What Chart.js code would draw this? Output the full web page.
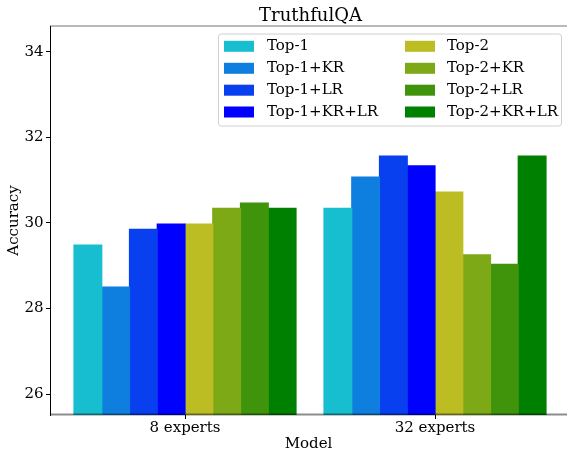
<!DOCTYPE html>
<html lang="en">
<head>
    <meta charset="UTF-8">
    <title>TruthfulQA</title>
    <script src="https://cdn.jsdelivr.net/npm/chart.js@4.4.1/dist/chart.umd.min.js"></script>
    <style>
        body {
            margin: 0;
            background-color: white;
        }
        #chart {
            display: block;
        }
    </style>
</head>
<body>
    <canvas id="chart" width="567" height="453"></canvas>

    <script>
        // data
        const categories = ['8 experts', '32 experts'];
        const seriesNames = ['Top-1', 'Top-1+KR', 'Top-1+LR', 'Top-1+KR+LR',
                             'Top-2', 'Top-2+KR', 'Top-2+LR', 'Top-2+KR+LR'];
        const top1      = [29.48, 30.34];
        const top1KR    = [28.50, 31.07];
        const top1LR    = [29.85, 31.56];
        const top1KRLR  = [29.97, 31.33];
        const top2      = [29.97, 30.72];
        const top2KR    = [30.34, 29.25];
        const top2LR    = [30.46, 29.03];
        const top2KRLR  = [30.34, 31.56];
        const yTicks = [26, 28, 30, 32, 34];

        const seriesValues = [top1, top1KR, top1LR, top1KRLR, top2, top2KR, top2LR, top2KRLR];
        const colors = ['#17becf', '#0f7fdf', '#083fef', '#0000ff',
                        '#bcbd22', '#7da917', '#3f940b', '#008000'];

        const fontFamily = "'DejaVu Serif', serif";
        const chartTitle = 'TruthfulQA';

        const datasets = seriesNames.map((name, i) => ({
            label: name,
            data: seriesValues[i].map((v, j) => ({x: j, y: v})),
            backgroundColor: colors[i],
            borderWidth: 0,
            inflateAmount: 0.6,
            categoryPercentage: 0.888,
            barPercentage: 1.0
        }));

        // title centred over the axes, not the canvas
        const axesTitle = {
            id: 'axesTitle',
            afterDraw(chart) {
                const {ctx, chartArea} = chart;
                ctx.save();
                ctx.font = '18px ' + fontFamily;
                ctx.fillStyle = '#000';
                ctx.textAlign = 'center';
                ctx.textBaseline = 'middle';
                ctx.fillText(chartTitle, (chartArea.left + chartArea.right) / 2 + 2, 16.5);
                ctx.restore();
            }
        };

        // grey top/bottom spines drawn over the bars, like matplotlib
        const spines = {
            id: 'spines',
            afterDatasetsDraw(chart) {
                const {ctx, chartArea} = chart;
                ctx.save();
                ctx.strokeStyle = 'rgba(0,0,0,0.55)';
                ctx.lineWidth = 1.2;
                ctx.beginPath();
                ctx.moveTo(chartArea.left, chartArea.top);
                ctx.lineTo(chartArea.right, chartArea.top);
                ctx.stroke();
                ctx.strokeStyle = 'rgba(0,0,0,0.45)';
                ctx.lineWidth = 2;
                ctx.beginPath();
                ctx.moveTo(chartArea.left, chartArea.bottom - 0.5);
                ctx.lineTo(chartArea.right, chartArea.bottom - 0.5);
                ctx.stroke();
                ctx.restore();
            }
        };

        // two-column legend, filled column by column
        const columnLegend = {
            id: 'columnLegend',
            afterDraw(chart) {
                const ctx = chart.ctx;
                const box = {x: 218.5, y: 34, w: 343, h: 92};
                const colX = [224, 405];
                const textX = [267, 447];
                const rowY = [46.3, 68.3, 90.2, 112];
                ctx.save();
                ctx.beginPath();
                ctx.roundRect(box.x, box.y, box.w, box.h, 3);
                ctx.fillStyle = 'rgba(255,255,255,0.8)';
                ctx.fill();
                ctx.strokeStyle = '#d0d0d0';
                ctx.lineWidth = 1;
                ctx.stroke();
                ctx.font = '15px ' + fontFamily;
                ctx.textBaseline = 'middle';
                ctx.textAlign = 'left';
                chart.data.datasets.forEach((ds, i) => {
                    const col = Math.floor(i / 4);
                    const row = i % 4;
                    ctx.fillStyle = ds.backgroundColor;
                    ctx.fillRect(colX[col], rowY[row] - 5.5, 30, 11);
                    ctx.fillStyle = '#000';
                    ctx.fillText(ds.label, textX[col], rowY[row]);
                });
                ctx.restore();
            }
        };

        const ctx = document.getElementById('chart').getContext('2d');
        new Chart(ctx, {
            type: 'bar',
            data: { datasets: datasets },
            options: {
                responsive: false,
                animation: false,
                devicePixelRatio: 1,
                layout: { padding: { top: 26, left: 0, right: 0, bottom: 0 } },
                plugins: {
                    legend: { display: false },
                    tooltip: { enabled: false },
                    title: { display: false }
                },
                scales: {
                    x: {
                        type: 'linear',
                        offset: false,
                        min: -0.54,
                        max: 1.528,
                        afterBuildTicks(scale) {
                            scale.ticks = categories.map((c, i) => ({value: i}));
                        },
                        afterFit(scale) {
                            scale.height = 38;
                        },
                        ticks: {
                            color: '#000',
                            padding: 0,
                            maxRotation: 0,
                            font: { family: fontFamily, size: 15 },
                            callback: (value) => categories[value]
                        },
                        grid: {
                            offset: false,
                            drawOnChartArea: false,
                            drawTicks: true,
                            tickLength: 4,
                            color: '#000'
                        },
                        border: { display: false },
                        title: {
                            display: true,
                            text: 'Model',
                            color: '#000',
                            font: { family: fontFamily, size: 15, lineHeight: 1.2 },
                            padding: { top: 0, bottom: 0 }
                        }
                    },
                    y: {
                        min: 25.51,
                        max: 34.6,
                        afterBuildTicks(scale) {
                            scale.ticks = yTicks.map(v => ({value: v}));
                        },
                        afterFit(scale) {
                            scale.width = 50;
                        },
                        ticks: {
                            color: '#000',
                            padding: 2.5,
                            font: { family: fontFamily, size: 15 }
                        },
                        grid: {
                            drawOnChartArea: false,
                            drawTicks: true,
                            tickLength: 4,
                            color: '#000'
                        },
                        border: { display: true, color: '#000', width: 1 },
                        title: {
                            display: true,
                            text: 'Accuracy',
                            color: '#000',
                            font: { family: fontFamily, size: 15, lineHeight: 1.2 },
                            padding: { top: 4.8, bottom: 0 }
                        }
                    }
                }
            },
            plugins: [spines, columnLegend, axesTitle]
        });
    </script>
</body>
</html>
